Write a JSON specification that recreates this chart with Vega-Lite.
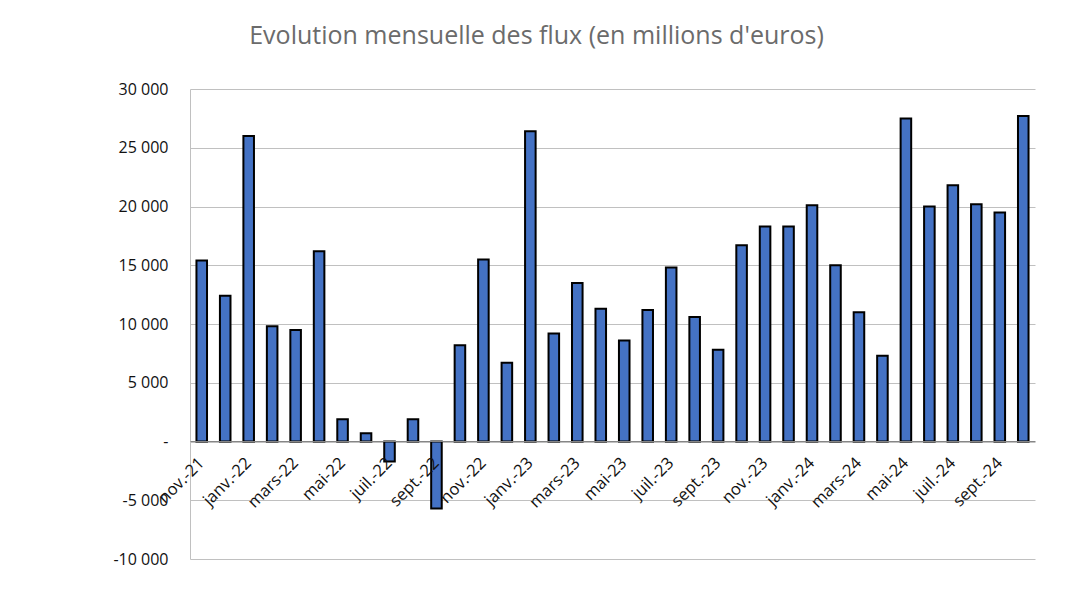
{
  "$schema": "https://vega.github.io/schema/vega-lite/v6.json",
  "autosize": {"type": "none"},
  "width": 845,
  "height": 470,
  "padding": {"left": 190, "top": 89, "right": 40, "bottom": 35},
  "background": "white",
  "title": {
    "text": "Evolution mensuelle des flux (en millions d'euros)",
    "font": "Open Sans",
    "fontSize": 25,
    "fontWeight": "normal",
    "color": "#6b6b6b",
    "anchor": "middle",
    "frame": "group",
    "dx": -76,
    "offset": 32
  },
  "data": {
    "values": [
      {"mois": "nov.-21", "flux": 15400},
      {"mois": "déc.-21", "flux": 12400},
      {"mois": "janv.-22", "flux": 26000},
      {"mois": "févr.-22", "flux": 9800},
      {"mois": "mars-22", "flux": 9500},
      {"mois": "avr.-22", "flux": 16200},
      {"mois": "mai-22", "flux": 1900},
      {"mois": "juin-22", "flux": 700},
      {"mois": "juil.-22", "flux": -1700},
      {"mois": "août-22", "flux": 1900},
      {"mois": "sept.-22", "flux": -5700},
      {"mois": "oct.-22", "flux": 8200},
      {"mois": "nov.-22", "flux": 15500},
      {"mois": "déc.-22", "flux": 6700},
      {"mois": "janv.-23", "flux": 26400},
      {"mois": "févr.-23", "flux": 9200},
      {"mois": "mars-23", "flux": 13500},
      {"mois": "avr.-23", "flux": 11300},
      {"mois": "mai-23", "flux": 8600},
      {"mois": "juin-23", "flux": 11200},
      {"mois": "juil.-23", "flux": 14800},
      {"mois": "août-23", "flux": 10600},
      {"mois": "sept.-23", "flux": 7800},
      {"mois": "oct.-23", "flux": 16700},
      {"mois": "nov.-23", "flux": 18300},
      {"mois": "déc.-23", "flux": 18300},
      {"mois": "janv.-24", "flux": 20100},
      {"mois": "févr.-24", "flux": 15000},
      {"mois": "mars-24", "flux": 11000},
      {"mois": "avr.-24", "flux": 7300},
      {"mois": "mai-24", "flux": 27500},
      {"mois": "juin-24", "flux": 20000},
      {"mois": "juil.-24", "flux": 21800},
      {"mois": "août-24", "flux": 20200},
      {"mois": "sept.-24", "flux": 19500},
      {"mois": "oct.-24", "flux": 27700}
    ]
  },
  "mark": {"type": "bar", "fill": "#4472C4", "stroke": "#000000", "strokeWidth": 2},
  "encoding": {
    "x": {
      "field": "mois",
      "type": "ordinal",
      "sort": null,
      "scale": {"paddingInner": 0.55, "paddingOuter": 0.275},
      "axis": {
        "title": null,
        "values": ["nov.-21", "janv.-22", "mars-22", "mai-22", "juil.-22", "sept.-22", "nov.-22", "janv.-23", "mars-23", "mai-23", "juil.-23", "sept.-23", "nov.-23", "janv.-24", "mars-24", "mai-24", "juil.-24", "sept.-24"],
        "offset": -118,
        "ticks": false,
        "domain": true,
        "domainColor": "#868686",
        "domainWidth": 1,
        "grid": false,
        "labelAngle": -45,
        "labelAlign": "right",
        "labelBaseline": "middle",
        "labelPadding": 19,
        "labelFont": "Open Sans",
        "labelFontSize": 16.5,
        "labelColor": "#111111",
        "labelOverlap": false,
        "labelBound": false,
        "labelFlush": false,
        "zindex": 1
      }
    },
    "y": {
      "field": "flux",
      "type": "quantitative",
      "scale": {"domain": [-10000, 30000], "nice": false, "zero": false},
      "axis": {
        "title": null,
        "values": [-10000, -5000, 0, 5000, 10000, 15000, 20000, 25000, 30000],
        "labelExpr": "datum.value == 0 ? '-\u00a0\u00a0\u00a0' : replace(replace(format(datum.value, ','), ',', ' '), '\u2212', '-')",
        "ticks": false,
        "domain": true,
        "domainColor": "#c0c0c0",
        "grid": true,
        "gridColor": "#c0c0c0",
        "gridWidth": 1,
        "labelPadding": 22,
        "labelFont": "Open Sans",
        "labelFontSize": 16,
        "labelColor": "#111111"
      }
    }
  },
  "config": {"view": {"stroke": null}}
}
